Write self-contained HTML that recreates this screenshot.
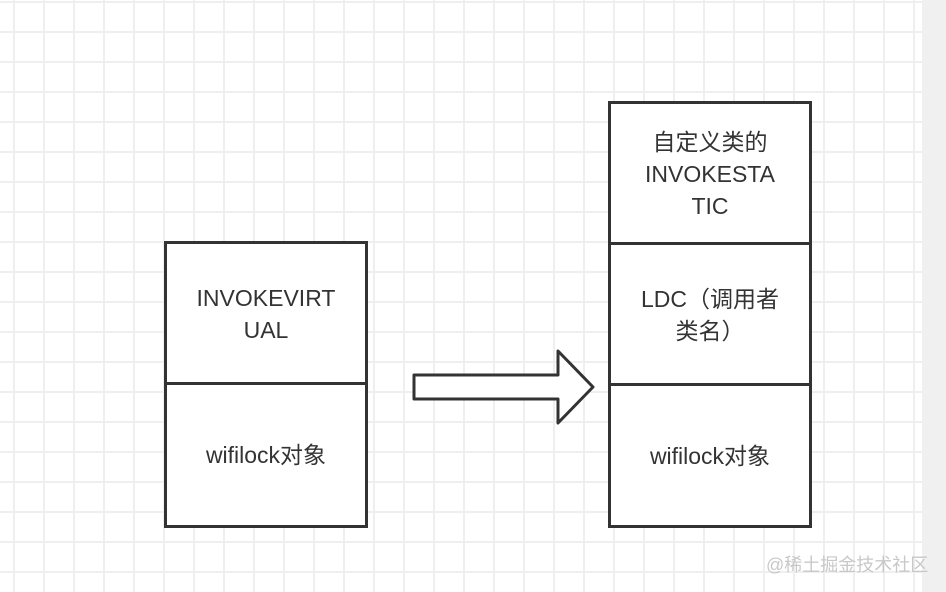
<!DOCTYPE html>
<html><head><style>
body{margin:0;width:946px;height:592px;overflow:hidden;background:#fff;font-family:"Liberation Sans","Noto Sans CJK SC",sans-serif;}
.bg{position:absolute;left:0;top:0;width:922px;height:592px;
background-image:linear-gradient(to right,#efefef 2px,transparent 2px),linear-gradient(to bottom,#efefef 2px,transparent 2px);
background-size:30px 30px;background-position:13px 1px;}
.gr{position:absolute;left:922px;top:0;width:24px;height:592px;background:#f0f0f0;}
.c{position:absolute;border:3px solid #333;background:#fff;box-sizing:border-box;display:flex;align-items:center;justify-content:center;text-align:center;font-size:23px;line-height:32px;color:#333;}
.wm{position:absolute;left:766px;top:551px;font-size:18px;color:#c8c8c8;}
</style></head><body>
<div class="bg"></div><div class="gr"></div>
<div class="c" style="left:164px;top:241px;width:204px;height:145px;">INVOKEVIRT<br>UAL</div>
<div class="c" style="left:164px;top:382px;width:204px;height:146px;">wifilock对象</div>
<div class="c" style="left:608px;top:101px;width:204px;height:145px;">自定义类的<br>INVOKESTA<br>TIC</div>
<div class="c" style="left:608px;top:242px;width:204px;height:145px;">LDC（调用者<br>类名）</div>
<div class="c" style="left:608px;top:383px;width:204px;height:145px;">wifilock对象</div>
<svg style="position:absolute;left:0;top:0" width="946" height="592"><polygon points="414,375 558,375 558,351 593,387 558,423 558,399 414,399" fill="#fff" stroke="#333" stroke-width="3" stroke-linejoin="round"/></svg>
<div class="wm">@稀土掘金技术社区</div>
</body></html>
